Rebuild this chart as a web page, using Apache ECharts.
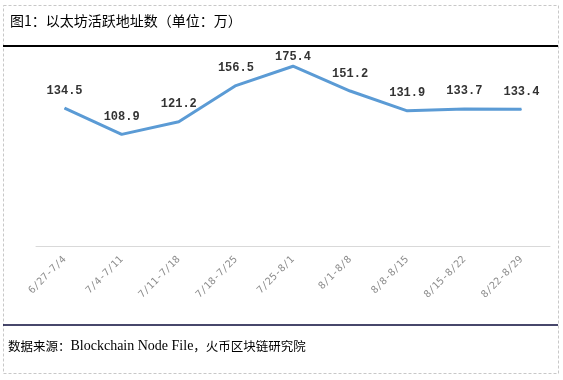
<!DOCTYPE html>
<html><head><meta charset="utf-8">
<script src="https://cdn.jsdelivr.net/npm/echarts@6/dist/echarts.min.js"></script>
<style>html,body{margin:0;padding:0;background:#fff}#c{width:563px;height:380px}</style>
</head><body><div id="c"></div>
<script>
const categories = ["6/27-7/4","7/4-7/11","7/11-7/18","7/18-7/25","7/25-8/1","8/1-8/8","8/8-8/15","8/15-8/22","8/22-8/29"];
const values = [134.5,108.9,121.2,156.5,175.4,151.2,131.9,133.7,133.4];
const titleText = "图1：以太坊活跃地址数（单位：万）";

const maxIdx = values.indexOf(Math.max(...values));
const seriesData = values.map((v, i) => i === maxIdx ? {value: v, label: {distance: 3}} : v);

const chart = echarts.init(document.getElementById('c'), null, {renderer:'canvas'});
chart.setOption({
  animation:false,
  backgroundColor:'#fff',
  grid:{left:36, right:13, top:41, height:205},
  xAxis:{type:'category', data:categories, boundaryGap:true,
    axisLine:{lineStyle:{color:'#d9d9d9', width:1}},
    axisTick:{show:false},
    axisLabel:{rotate:45, color:'#8c8c8c', fontSize:10, fontFamily:'DejaVu Sans Mono', margin:12, interval:0}},
  yAxis:{type:'value', min:0, max:200, show:false, splitLine:{show:false}},
  series:[{type:'line', data:seriesData, symbol:'circle', symbolSize:1, showSymbol:true,
    itemStyle:{color:'#5b9bd5'},
    lineStyle:{color:'#5b9bd5', width:3},
    label:{show:true, position:'top', distance:11, color:'#333', fontSize:12, fontWeight:'bold', fontFamily:'Liberation Mono'}}],
  graphic:[
    {type:'rect', shape:{x:3.5,y:5.5,width:555,height:368}, style:{fill:'none', stroke:'#c8c8c8', lineWidth:1, lineDash:[3,2]}},
    {type:'text', left:10, top:14, style:{text:titleText, font:'14px "Noto Sans CJK SC"', fill:'#000'}},
    {type:'line', shape:{x1:3,y1:46,x2:558,y2:46}, style:{stroke:'#000', lineWidth:2}},
    {type:'line', shape:{x1:3,y1:325,x2:558,y2:325}, style:{stroke:'#0a0a3a', lineWidth:1.5}},
    {type:'text', left:8, top:339, style:{
      text:'{c|数据来源：}{e|Blockchain Node File}{c|，火币区块链研究院}',
      rich:{
        c:{fontSize:12.5, fontFamily:'Noto Sans CJK SC', fill:'#000', color:'#000'},
        e:{fontSize:14, fontFamily:'Liberation Serif', fill:'#000', color:'#000'}
      }}}
  ]
});
</script></body></html>
